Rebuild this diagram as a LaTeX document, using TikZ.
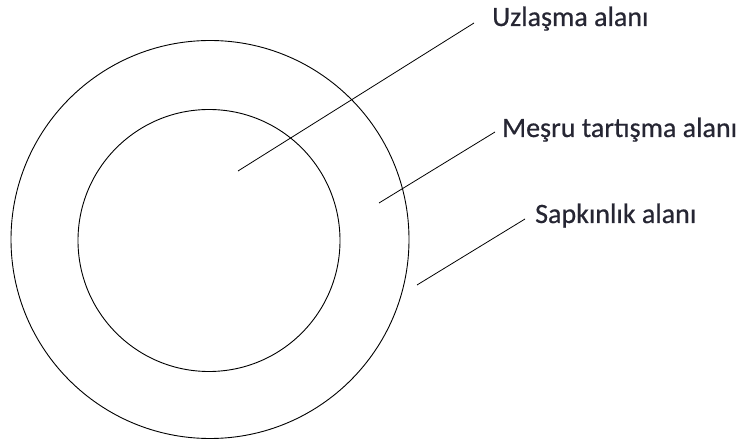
\documentclass[tikz,border=0pt]{standalone}
\usepackage{fontspec}
\setmainfont{Carlito}
\newfontfamily\lblfont[BoldFont=Carlito,BoldFeatures={FakeBold=0.6}]{Carlito}
\begin{document}
\begin{tikzpicture}[x=1pt,y=-1pt,
  ring/.style={draw=black,line width=0.9pt},
  leader/.style={draw=black,line width=0.8pt},
  lbl/.style={anchor=base west,inner sep=0pt,text=txt,font=\fontsize{28}{32}\lblfont\bfseries}]
\definecolor{txt}{HTML}{262633}
\useasboundingbox (0,0) rectangle (744,443);
\fill[white] (0,0) rectangle (744,443);
\draw[ring] (210,239.5) circle[radius=199pt];
\draw[ring] (209,240.5) circle[radius=131pt];
\node[lbl] (uz) at (492,26) {Uzlaşma alanı};
\node[lbl] (me) at (502,137) {Meşru tartışma alanı};
\node[lbl] (sa) at (535,223) {Sapkınlık alanı};
\coordinate (uzA) at (238,171);
\coordinate (uzB) at (474,23);
\coordinate (meA) at (379,203);
\coordinate (meB) at (495,132);
\coordinate (saA) at (417,285);
\coordinate (saB) at (525,219);
\draw[leader] (uzA) -- (uzB);
\draw[leader] (meA) -- (meB);
\draw[leader] (saA) -- (saB);
\end{tikzpicture}
\end{document}
